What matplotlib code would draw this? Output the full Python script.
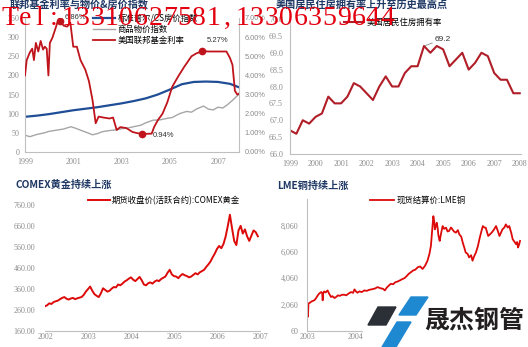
import numpy as np
import matplotlib
matplotlib.use("Agg")
import matplotlib.pyplot as plt
from matplotlib.patches import Polygon, Rectangle

plt.rcParams["font.family"] = ["Noto Sans CJK SC", "DejaVu Sans"]

# ---- data ----
# top left: fed funds rate (%), house price index, commodity price index
fed = [(1999.00, 4.0), (1999.07, 4.8), (1999.20, 5.2), (1999.30, 5.4), (1999.37, 4.8),
       (1999.45, 5.7), (1999.55, 5.25), (1999.65, 5.8), (1999.75, 5.35), (1999.82, 5.5),
       (1999.90, 5.4), (1999.97, 4.0), (2000.03, 5.7), (2000.13, 5.95), (2000.25, 6.4),
       (2000.35, 6.8), (2000.45, 6.86), (2000.60, 6.6), (2000.75, 6.55), (2000.88, 6.75),
       (2001.00, 5.5), (2001.15, 5.5), (2001.30, 4.8), (2001.50, 4.3), (2001.65, 3.7),
       (2001.80, 2.7), (2001.93, 1.5), (2002.05, 1.85), (2002.25, 1.8), (2002.50, 1.75),
       (2002.65, 1.8), (2002.80, 1.15), (2002.95, 1.3), (2003.20, 1.25), (2003.45, 1.05),
       (2003.60, 1.0), (2003.85, 0.94), (2004.25, 0.96), (2004.35, 1.3), (2004.50, 1.65),
       (2004.70, 2.0), (2004.90, 2.6), (2005.10, 3.4), (2005.35, 3.95), (2005.60, 4.45),
       (2005.90, 5.0), (2006.10, 5.15), (2006.35, 5.27), (2006.60, 5.25), (2007.00, 5.25),
       (2007.35, 5.25), (2007.50, 4.9), (2007.60, 4.55), (2007.70, 3.2), (2007.80, 3.0),
       (2007.87, 3.05)]
fed_marks = [16, 36, 47]   # points with a dot and label

hpi = [(1999.0, 92), (1999.5, 95), (2000.0, 99), (2000.5, 104), (2001.0, 109),
       (2001.5, 113), (2002.0, 117), (2002.5, 122), (2003.0, 127), (2003.5, 133),
       (2004.0, 140), (2004.5, 150), (2005.0, 163), (2005.5, 177), (2006.0, 183),
       (2006.5, 184), (2007.0, 183), (2007.5, 178), (2007.87, 169)]

cpi = [(1999.0, 44), (1999.2, 40), (1999.5, 46), (1999.8, 50), (2000.0, 54), (2000.3, 57),
       (2000.6, 60), (2000.9, 66), (2001.1, 62), (2001.3, 57), (2001.6, 50), (2001.8, 45),
       (2002.0, 48), (2002.2, 53), (2002.5, 56), (2002.8, 58), (2003.0, 61), (2003.2, 62),
       (2003.5, 66), (2003.8, 70), (2004.0, 76), (2004.3, 83), (2004.6, 84), (2004.9, 88),
       (2005.1, 90), (2005.4, 100), (2005.7, 106), (2005.9, 104), (2006.1, 112), (2006.4, 120),
       (2006.6, 112), (2006.8, 110), (2007.0, 117), (2007.2, 115), (2007.4, 124), (2007.6, 135),
       (2007.8, 147), (2007.87, 150)]

# top right: home ownership rate, quarterly from 1999Q1
own_rate = [66.7, 66.6, 67.0, 66.9, 67.1, 67.2, 67.7, 67.5, 67.5, 67.7, 68.1, 68.0,
            67.8, 67.6, 68.0, 68.3, 68.0, 68.0, 68.4, 68.6, 68.6, 69.2, 69.0, 69.2,
            69.1, 68.6, 68.8, 69.0, 68.5, 68.7, 69.0, 68.9, 68.4, 68.2, 68.2, 67.8, 67.8]
own_year = 1999 + 0.25 * np.arange(len(own_rate))
own_mark = 21

# bottom left: COMEX gold, every 0.05 year from 2002
gold_price = [278, 283, 292, 289, 298, 302, 305, 312, 318, 322,
              314, 310, 315, 318, 312, 316, 319, 322, 332, 348,
              360, 372, 352, 336, 328, 322, 340, 364, 356, 348,
              352, 362, 370, 368, 382, 378, 386, 396, 402, 410,
              416, 405, 398, 408, 418, 402, 382, 378, 388, 392,
              386, 396, 402, 398, 408, 414, 420, 438, 452, 430,
              422, 420, 412, 424, 432, 426, 422, 416, 420, 428,
              436, 430, 440, 446, 452, 466, 478, 492, 512, 530,
              552, 566, 555, 575, 610, 660, 715, 650, 590, 570,
              640, 662, 625, 645, 612, 590, 615, 640, 632, 612]
gold_year = 2002 + 0.05 * np.arange(len(gold_price))

# bottom right: LME copper
cu = [(2003.00, 2010), (2003.01, 1400), (2003.02, 1135), (2003.03, 2135), (2003.06, 2210),
      (2003.08, 2260), (2003.11, 2330), (2003.15, 2385), (2003.18, 2520), (2003.22, 2760),
      (2003.25, 2900), (2003.29, 3010), (2003.31, 2950), (2003.32, 2385), (2003.33, 2900),
      (2003.35, 3060), (2003.38, 2980), (2003.42, 3135), (2003.45, 2900), (2003.49, 2635),
      (2003.52, 2700), (2003.56, 2560), (2003.60, 2650), (2003.63, 2760), (2003.67, 2720),
      (2003.71, 2800), (2003.76, 2810), (2003.80, 2760), (2003.85, 2900), (2003.90, 3010),
      (2003.94, 2950), (2003.97, 3210), (2004.00, 3060), (2004.03, 2960), (2004.07, 3060),
      (2004.12, 3010), (2004.17, 3135), (2004.22, 3100), (2004.27, 3180), (2004.31, 3210),
      (2004.36, 3250), (2004.40, 3300), (2004.44, 3385), (2004.50, 3300), (2004.55, 3260),
      (2004.59, 3135), (2004.63, 3350), (2004.67, 3500), (2004.71, 3635), (2004.76, 3600),
      (2004.80, 3750), (2004.85, 3810), (2004.90, 3900), (2004.95, 4000), (2004.99, 4060),
      (2005.03, 4200), (2005.08, 4400), (2005.12, 4510), (2005.17, 4650), (2005.21, 4700),
      (2005.26, 4885), (2005.31, 4950), (2005.36, 4760), (2005.41, 5000), (2005.46, 5385),
      (2005.50, 5900), (2005.53, 6510), (2005.56, 7885), (2005.58, 8760), (2005.60, 8300),
      (2005.61, 7760), (2005.63, 8000), (2005.65, 8260), (2005.67, 7800), (2005.68, 7385),
      (2005.70, 7000), (2005.71, 6885), (2005.74, 7500), (2005.77, 8010), (2005.80, 7800),
      (2005.84, 7885), (2005.87, 7600), (2005.90, 7635), (2005.94, 7900), (2005.97, 7760),
      (2006.00, 7600), (2006.04, 7510), (2006.08, 7700), (2006.11, 7385), (2006.15, 7200),
      (2006.18, 6760), (2006.21, 6400), (2006.24, 6010), (2006.28, 5900), (2006.31, 5635),
      (2006.35, 5800), (2006.38, 5385), (2006.41, 5700), (2006.45, 6010), (2006.49, 6500),
      (2006.52, 7010), (2006.56, 7600), (2006.59, 8010), (2006.62, 7900), (2006.65, 7885),
      (2006.68, 7500), (2006.70, 7260), (2006.74, 7400), (2006.77, 7510), (2006.81, 7700),
      (2006.86, 8010), (2006.90, 7600), (2006.93, 7260), (2006.96, 7500), (2006.99, 7760),
      (2007.03, 7900), (2007.06, 8135), (2007.10, 7900), (2007.13, 8010), (2007.17, 7500),
      (2007.20, 7010), (2007.24, 6800), (2007.27, 6635), (2007.29, 6800), (2007.31, 6385),
      (2007.33, 6600), (2007.35, 6885)]

titles = ["联邦基金利率与物价&房价指数", "美国居民住房拥有率上升至历史最高点",
          "COMEX黄金持续上涨", "LME铜持续上涨"]
tl_labels = ["标准普尔/CS房价指数", "商品物价指数", "美国联邦基金利率"]
own_label = "美国居民住房拥有率"
gold_label = "期货收盘价(活跃合约):COMEX黄金"
cu_label = "现货结算价:LME铜"
watermark = "Tel:13310627581,13306359644"
logo_text = "晟杰钢管"

# ---- layout helpers (pixel positions of the 528x347 picture) ----
W, H = 528, 347
fig = plt.figure(figsize=(W / 100, H / 100), dpi=100)


def fx(x):
    return x / W


def fy(y):
    return 1 - y / H


def add_ax(x0, y0, x1, y1):
    return fig.add_axes([fx(x0), fy(y1), (x1 - x0) / W, (y1 - y0) / H])


GRID = "#BFBFBF"
TICK = "#8C8C8C"
TITLE = "#1F3864"


def style(ax, spines, pad=4, xpad=3):
    for s in ax.spines:
        ax.spines[s].set_visible(s in spines)
        ax.spines[s].set_color(GRID)
        ax.spines[s].set_linewidth(0.8)
    ax.tick_params(length=0, labelsize=5.3, colors=TICK, pad=pad)
    ax.tick_params(axis="x", pad=xpad)
    ax.patch.set_alpha(0)


def serif_ticks(ax):
    for lab in ax.get_xticklabels() + ax.get_yticklabels():
        lab.set_family("Liberation Serif")
        lab.set_fontsize(5.8)


# ---- top left ----
ax1 = add_ax(25, 18, 239, 152)
ax1b = ax1.twinx()
hx, hy = zip(*hpi)
cx, cy = zip(*cpi)
fx_, fr = zip(*fed)
l1, = ax1.plot(hx, hy, color="#1F4E96", lw=1.6)
l2, = ax1.plot(cx, cy, color="#A6A6A6", lw=1.0)
l3, = ax1b.plot(fx_, fr, color="#C0141C", lw=1.3)
for i, off in zip(fed_marks, [(3, 2), (8, -1), (3, 8)]):
    ax1b.plot(fx_[i], fr[i], "o", color="#C0141C", ms=4.5)
    ax1b.annotate(f"{fr[i]:.2f}%", (fx_[i], fr[i]), xytext=off, textcoords="offset points",
                  fontsize=5.5, va="center", ha="left", color="#333333",
                  family="Liberation Sans")
ax1.set_xlim(1999, 2007.87)
ax1.set_ylim(0, 350)
ax1b.set_ylim(0, 7)
ax1.set_xticks([1999, 2001, 2003, 2005, 2007])
ax1.set_yticks(range(0, 351, 50))
ax1b.set_yticks(range(0, 8))
ax1b.set_yticklabels([f"{v:.2f}%" for v in range(0, 8)])
style(ax1, ["left", "bottom"], pad=4, xpad=4)
style(ax1b, ["right"], pad=4)
serif_ticks(ax1)
for lab in ax1b.get_yticklabels():
    lab.set_family("Liberation Sans")
fig.legend([l1, l2, l3], tl_labels, loc="upper left", bbox_to_anchor=(fx(93), fy(14)),
           frameon=False, fontsize=6, handlelength=2.6, handletextpad=0.4,
           labelspacing=0.25, borderpad=0, borderaxespad=0)

# ---- top right ----
ax2 = add_ax(290, 19, 521, 154)
l4, = ax2.plot(own_year, own_rate, color="#B01E28", lw=1.5)
ax2.annotate(f"{own_rate[own_mark]:.1f}", (own_year[own_mark], own_rate[own_mark]),
             xytext=(8, 5), textcoords="offset points", fontsize=6, va="center",
             color="#333333", family="Liberation Sans",
             arrowprops=dict(arrowstyle="-", color="#8C8C8C", lw=0.6, shrinkA=0, shrinkB=1))
ax2.set_xlim(1999, 2008.05)
ax2.set_ylim(66, 70)
ax2.set_xticks(range(1999, 2009))
ax2.set_yticks(np.arange(66, 70.01, 0.5))
ax2.set_yticklabels([f"{v:.1f}" for v in np.arange(66, 70.01, 0.5)])
style(ax2, ["left", "bottom"], pad=5, xpad=4)
serif_ticks(ax2)
fig.legend([l4], [own_label], loc="upper left", bbox_to_anchor=(fx(344), fy(18)),
           frameon=False, fontsize=6, handlelength=2.4, handletextpad=0.3,
           borderpad=0, borderaxespad=0)

# ---- bottom left ----
ax3 = add_ax(45, 199, 260, 331)
l5, = ax3.plot(gold_year, gold_price, color="#DD0A0A", lw=1.4)
ax3.set_xlim(2002, 2007)
ax3.set_ylim(160, 790)
ax3.set_xticks(range(2002, 2008))
ax3.set_yticks(range(160, 761, 100))
ax3.set_yticklabels([f"{v:.2f}" for v in range(160, 761, 100)])
style(ax3, ["bottom"], pad=7, xpad=1.5)
serif_ticks(ax3)
fig.legend([l5], [gold_label], loc="upper left", bbox_to_anchor=(fx(88), fy(196)),
           frameon=False, fontsize=6, handlelength=2.6, handletextpad=0.3,
           borderpad=0, borderaxespad=0)

# ---- bottom right ----
ax4 = add_ax(307, 199, 522, 331)
ux, uy = zip(*cu)
l6, = ax4.plot(ux, uy, color="#DD0A0A", lw=1.3)
ax4.set_xlim(2003, 2007.39)
ax4.set_ylim(60, 10060)
ax4.set_xticks(range(2003, 2008))
ax4.set_yticks(range(60, 8061, 2000))
ax4.set_yticklabels([f"{v:,}" for v in range(60, 8061, 2000)])
style(ax4, ["left", "bottom"], pad=6, xpad=1.5)
serif_ticks(ax4)
fig.legend([l6], [cu_label], loc="upper left", bbox_to_anchor=(fx(370), fy(196)),
           frameon=False, fontsize=6, handlelength=2.9, handletextpad=0.3,
           borderpad=0, borderaxespad=0)

# ---- panel titles ----
for (x, y), t in zip([(10, 4), (276, 5), (15, 185), (277, 186)], titles):
    fig.text(fx(x), fy(y), t, fontsize=7.3, fontweight="bold", color=TITLE,
             ha="left", va="center")

# ---- logo in the lower right corner ----
fig.patches.append(Rectangle((fx(363), fy(347)), fx(528) - fx(363), fy(298) - fy(347),
                             transform=fig.transFigure, color="white", zorder=5))
shapes = [([(378, 307), (396, 307), (386, 325), (368, 325)], "#2B2F36"),
          ([(411, 297), (428, 297), (416, 315), (399, 315)], "#1E88D0"),
          ([(397, 322), (411, 322), (396, 347), (382, 347)], "#1E88D0")]
for pts, col in shapes:
    fig.patches.append(Polygon([(fx(a), fy(b)) for a, b in pts], closed=True,
                               transform=fig.transFigure, color=col, zorder=6))
fig.text(fx(424), fy(321), logo_text, fontsize=18, fontweight="bold", color="#231F20",
         ha="left", va="center", zorder=7)

# ---- red phone-number watermark across the top ----
for i, ch in enumerate(watermark):
    fig.text(fx(3 + 14.5 * (i + 0.5)), fy(25), ch, fontsize=20, color="#E3000F",
             family="Liberation Serif", ha="center", va="baseline", zorder=10)

fig.savefig("out.png", dpi=100)
